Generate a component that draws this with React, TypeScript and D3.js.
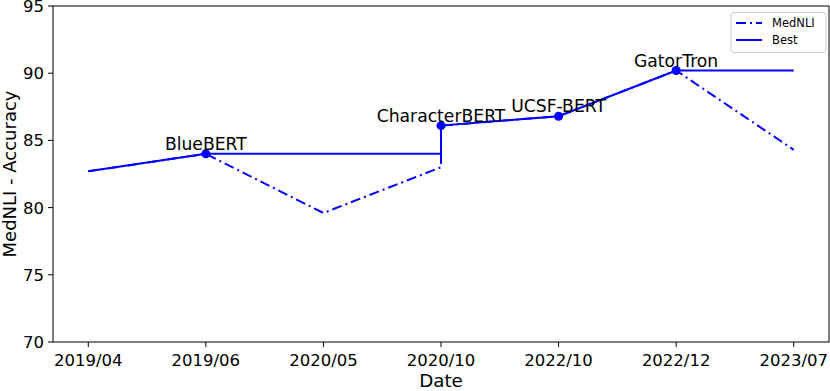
import React from "react";
import * as d3 from "d3";

const tickLabels = ["2019/04", "2019/06", "2020/05", "2020/10", "2022/10", "2022/12", "2023/07"];
// each model's date (index into tickLabels) and MedNLI accuracy
const dateIdx = [0, 1, 2, 3, 3, 4, 5, 6];
const mednli = [82.7, 84.0, 79.6, 83.0, 86.1, 86.8, 90.2, 84.3];
const best = [82.7, 84.0, 84.0, 84.0, 86.1, 86.8, 90.2, 90.2];
const annLabels = ["BlueBERT", "CharacterBERT", "UCSF-BERT", "GatorTron"];
const annIdx = [1, 4, 5, 6];
const yTicks = [70, 75, 80, 85, 90, 95];

const W = 830, H = 391;
const L = 53, R = 829, T = 6, B = 342;
const FONT = "'DejaVu Sans', sans-serif";
const BLUE = "#0000ff";

export default function App() {
  const x = d3.scaleLinear().domain([-0.3, tickLabels.length - 1 + 0.3]).range([L, R]);
  const y = d3.scaleLinear().domain([70, 95]).range([B, T]);
  const pts = (vals: number[]) => vals.map((v, i) => [x(dateIdx[i]), y(v)] as [number, number]);
  const line = d3.line();
  return (
    <svg width={W} height={H} style={{ position: "absolute", left: 0, top: 0, background: "#fff" }} fontFamily={FONT}>
      <rect x={0} y={0} width={W} height={H} fill="#fff" />
      <path d={line(pts(mednli)) || ""} fill="none" stroke={BLUE} strokeWidth={2} strokeDasharray="10,4,2,4" />
      <path d={line(pts(best)) || ""} fill="none" stroke={BLUE} strokeWidth={2} />
      {annIdx.map((k, i) => (
        <g key={i}>
          <circle cx={x(dateIdx[k])} cy={y(mednli[k])} r={4.5} fill={BLUE} />
          <text x={x(dateIdx[k])} y={y(mednli[k]) - 4} textAnchor="middle" fontSize={17.2} fill="#000">{annLabels[i]}</text>
        </g>
      ))}
      <rect x={L} y={T} width={R - L} height={B - T} fill="none" stroke="#000" strokeWidth={1} />
      {tickLabels.map((t, i) => (
        <g key={t}>
          <line x1={x(i)} x2={x(i)} y1={B} y2={B + 5} stroke="#000" />
          <text x={x(i)} y={365.5} textAnchor="middle" fontSize={16.5}>{t}</text>
        </g>
      ))}
      {yTicks.map((t) => (
        <g key={t}>
          <line x1={L - 5} x2={L} y1={y(t)} y2={y(t)} stroke="#000" />
          <text x={44} y={y(t)} dy="0.36em" textAnchor="end" fontSize={16.5}>{t}</text>
        </g>
      ))}
      <text x={441} y={386.5} textAnchor="middle" fontSize={18.3}>Date</text>
      <text transform={`translate(16,${(T + B) / 2}) rotate(-90)`} textAnchor="middle" fontSize={18}>MedNLI - Accuracy</text>
      <g>
        <rect x={731} y={12.5} width={95} height={40} rx={3} fill="#fff" stroke="#ccc" strokeWidth={1} />
        <line x1={736} x2={762} y1={23} y2={23} stroke={BLUE} strokeWidth={2} strokeDasharray="10,4,2,4" />
        <text x={772} y={23} dy="0.36em" fontSize={11.5}>MedNLI</text>
        <line x1={736} x2={762} y1={40} y2={40} stroke={BLUE} strokeWidth={2} />
        <text x={772} y={40} dy="0.36em" fontSize={11.5}>Best</text>
      </g>
    </svg>
  );
}
